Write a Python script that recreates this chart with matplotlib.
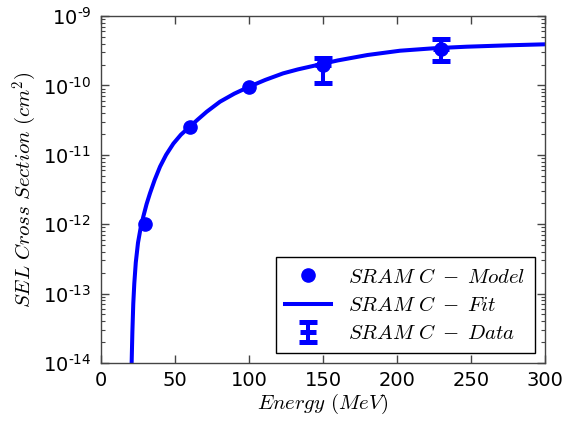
import matplotlib
matplotlib.use("Agg")
import matplotlib.pyplot as plt
from matplotlib.ticker import FixedLocator, LogLocator, FuncFormatter, NullFormatter

plt.rcParams['mathtext.fontset'] = 'cm'
plt.rcParams['font.family'] = ['DejaVu Sans']

# Model points
model_E = [30, 60, 100, 150, 230]
model_sigma = [1.0e-12, 2.5e-11, 9.5e-11, 2.0e-10, 3.35e-10]

# Fit curve
fit_E = [20.3, 20.7, 21.2, 21.8, 22.5, 23.5, 25.0, 26.8, 28.6, 30.8, 33.1, 36.3,
         39.9, 44.0, 48.9, 54.0, 59.7, 65.5, 71.4, 80.4, 90.0, 100, 111, 123,
         133, 143.5, 160, 180, 202, 225, 247, 275, 300]
fit_sigma = [1.0e-15, 1.0e-14, 2.8e-14, 7.1e-14, 1.4e-13, 2.8e-13, 5.4e-13, 8.9e-13,
             1.29e-12, 1.95e-12, 2.79e-12, 4.37e-12, 6.76e-12, 1.0e-11, 1.45e-11,
             1.95e-11, 2.51e-11, 3.24e-11, 4.17e-11, 5.82e-11, 7.59e-11, 9.55e-11,
             1.20e-10, 1.49e-10, 1.70e-10, 1.91e-10, 2.29e-10, 2.74e-10, 3.16e-10,
             3.43e-10, 3.61e-10, 3.78e-10, 3.91e-10]

# Measured data with error bars
data_E = [150, 230]
data_sigma = [1.95e-10, 3.35e-10]
data_low = [1.1e-10, 2.25e-10]
data_high = [2.5e-10, 4.6e-10]

xticks = [0, 50, 100, 150, 200, 250, 300]
yticks = [1e-14, 1e-13, 1e-12, 1e-11, 1e-10, 1e-9]

fig = plt.figure(figsize=(5.67, 4.22), dpi=100)
ax = fig.add_axes([101/567, 1-363/422, 444/567, 347/422])

ax.plot(model_E, model_sigma, 'o', color='blue', mec='blue', ms=9.5,
        label=r'$SRAM\ C\;-\;Model$')
ax.plot(fit_E, fit_sigma, '-', color='blue', lw=2.9,
        label=r'$SRAM\ C\;-\;Fit$')
yerr = [[s - lo for s, lo in zip(data_sigma, data_low)],
        [hi - s for s, hi in zip(data_sigma, data_high)]]
ax.errorbar(data_E, data_sigma, yerr=yerr, fmt='_', color='blue', ms=12, mew=3.6,
            elinewidth=2.9, capsize=6.5, capthick=3.2,
            label=r'$SRAM\ C\;-\;Data$')

ax.set_yscale('log')
ax.set_xlim(0, 300)
ax.set_ylim(1e-14, 1e-9)
ax.xaxis.set_major_locator(FixedLocator(xticks))
ax.yaxis.set_major_locator(FixedLocator(yticks))
ax.yaxis.set_minor_locator(LogLocator(base=10, subs=range(2, 10)))
ax.yaxis.set_minor_formatter(NullFormatter())

def yfmt(v, pos):
    import math
    e = int(round(math.log10(v)))
    return '$\\mathregular{10^{\u2010%d}}$' % abs(e)
ax.yaxis.set_major_formatter(FuncFormatter(yfmt))

ax.tick_params(which='both', direction='in', top=True, right=True,
               labelsize=14, color='#444444')
ax.tick_params(which='major', length=5.5, width=1)
ax.tick_params(which='minor', length=2.8, width=0.8)
ax.tick_params(axis='x', pad=6)
ax.tick_params(axis='y', pad=7)
for sp in ax.spines.values():
    sp.set_color('#444444')
    sp.set_linewidth(1.0)

ax.set_xlabel(r'$Energy\ (MeV)$', fontsize=15, labelpad=1)
ax.set_ylabel(r'$SEL\ Cross\ Section\ (cm^2)$', fontsize=15, labelpad=3)

leg = ax.legend(loc='lower right', fontsize=15, fancybox=False, framealpha=1,
                edgecolor='black', borderpad=0.45, labelspacing=0.4,
                handlelength=2.2, handletextpad=0.8, borderaxespad=0.5,
                numpoints=1)
leg.get_frame().set_linewidth(1.0)

fig.savefig('out.png', dpi=100)
